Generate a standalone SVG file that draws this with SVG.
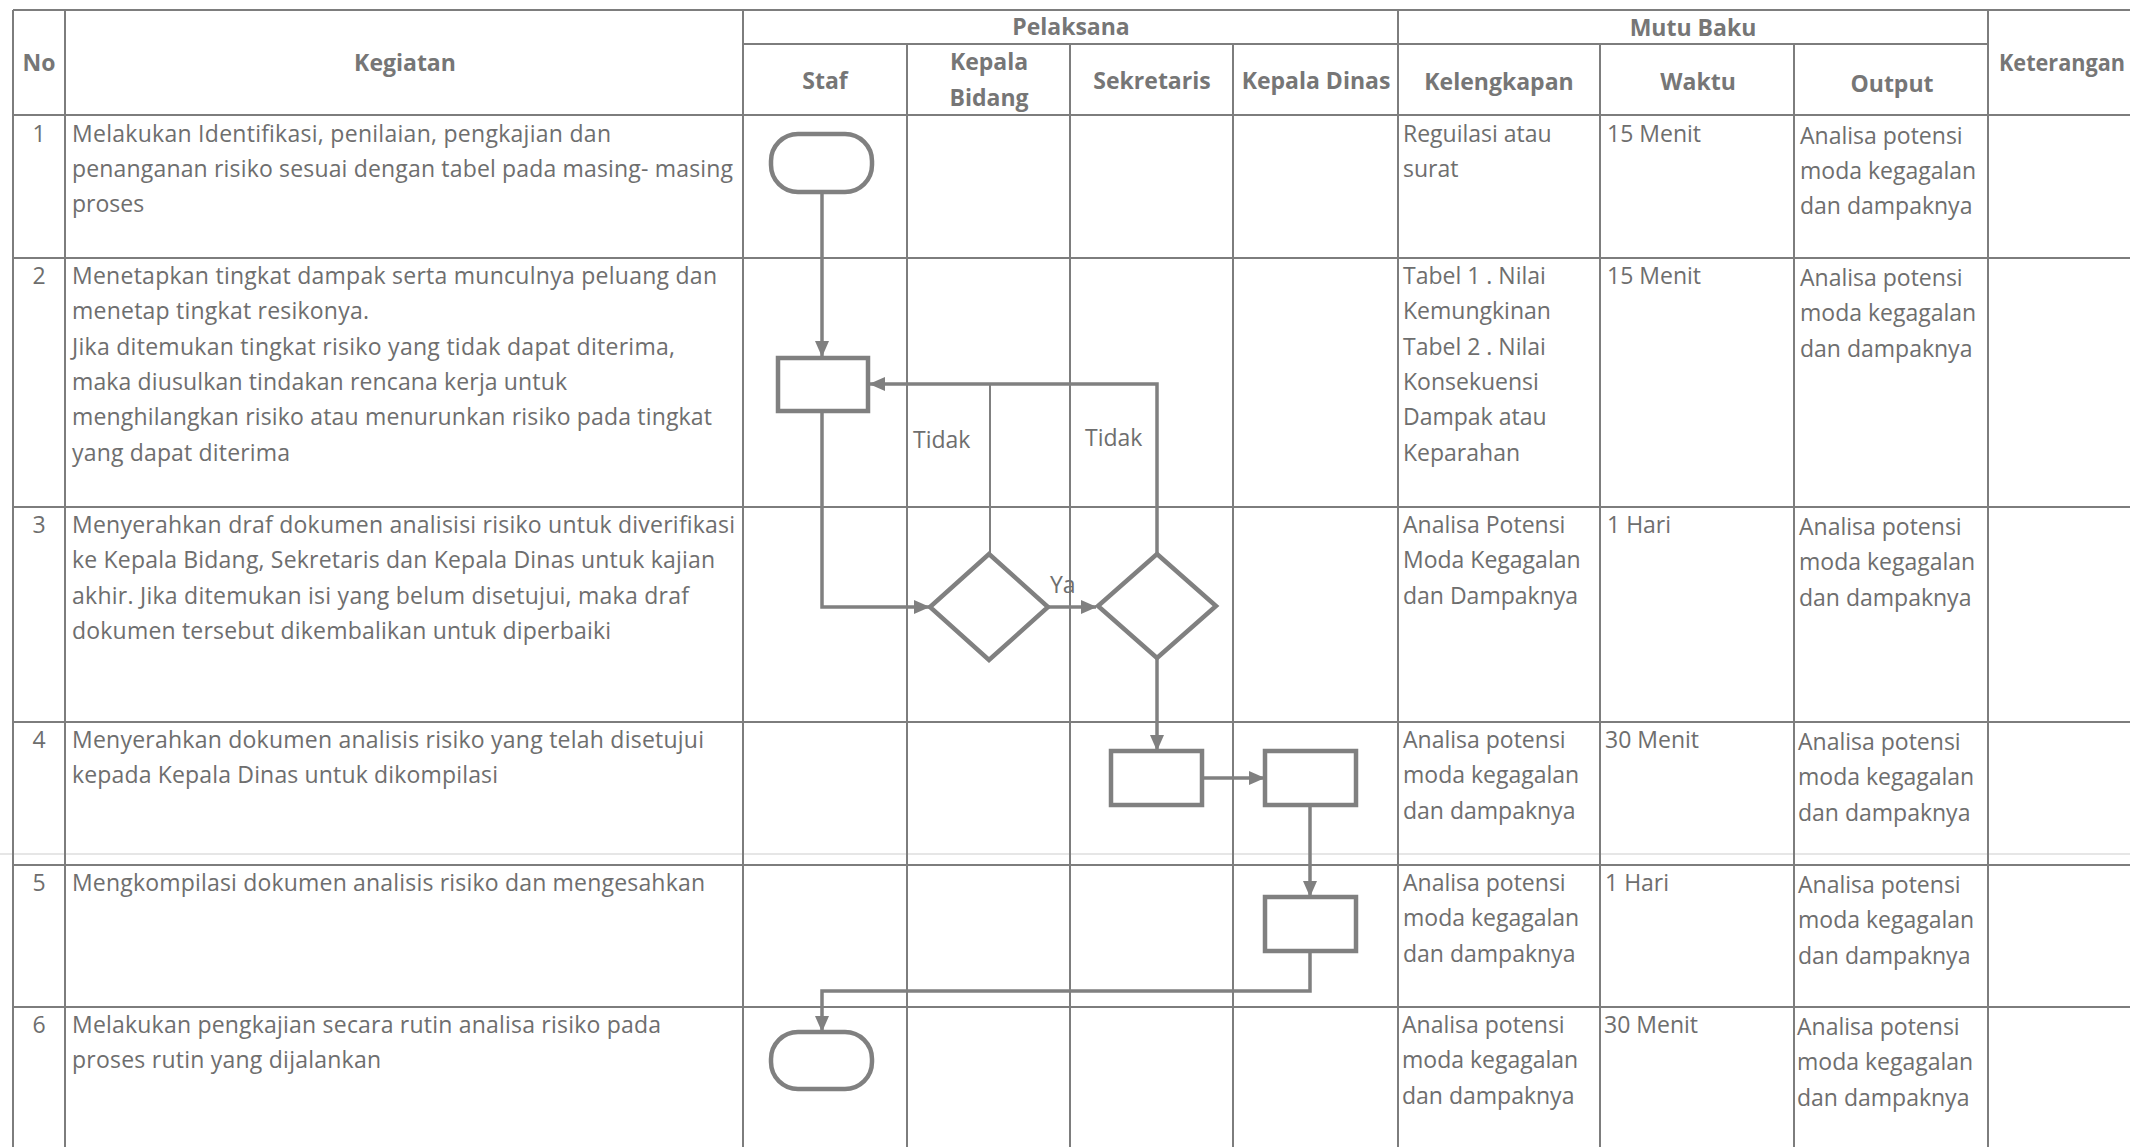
<svg xmlns="http://www.w3.org/2000/svg" width="2130" height="1147" viewBox="0 0 2130 1147">
<style>
.grid{stroke:#7d7d7d;stroke-width:2;fill:none}
.faint{stroke:#e6e6e6;stroke-width:2;fill:none}
.t{font-family:"Open Sans","Liberation Sans",sans-serif;font-size:23px;fill:#6e6e6e}
.h{font-family:"Open Sans","Liberation Sans",sans-serif;font-size:23px;font-weight:bold;fill:#767676;text-anchor:middle}
.n{text-anchor:middle}
.shape{fill:#fff;stroke:#808080;stroke-width:4.5}
.conn{stroke:#808080;stroke-width:3.5;fill:none}
.thin{stroke:#808080;stroke-width:2;fill:none}
</style>
<defs>
<marker id="arr" markerWidth="16" markerHeight="14" refX="15" refY="7" orient="auto" markerUnits="userSpaceOnUse"><path d="M0,0 L16,7 L0,14 z" fill="#808080"/></marker>
</defs>
<rect x="0" y="0" width="2130" height="1147" fill="#ffffff"/>

<g id="table-grid">
<line class="faint" x1="0" y1="854" x2="2130" y2="854"/>
<line class="grid" x1="13" y1="10" x2="2130" y2="10"/>
<line class="grid" x1="743" y1="44" x2="1988" y2="44"/>
<line class="grid" x1="13" y1="115" x2="2130" y2="115"/>
<line class="grid" x1="13" y1="258" x2="2130" y2="258"/>
<line class="grid" x1="13" y1="507" x2="2130" y2="507"/>
<line class="grid" x1="13" y1="722" x2="2130" y2="722"/>
<line class="grid" x1="13" y1="865" x2="2130" y2="865"/>
<line class="grid" x1="13" y1="1007" x2="2130" y2="1007"/>
<line class="grid" x1="13" y1="10" x2="13" y2="1147"/>
<line class="grid" x1="65" y1="10" x2="65" y2="1147"/>
<line class="grid" x1="743" y1="10" x2="743" y2="1147"/>
<line class="grid" x1="907" y1="44" x2="907" y2="1147"/>
<line class="grid" x1="1070" y1="44" x2="1070" y2="1147"/>
<line class="grid" x1="1233" y1="44" x2="1233" y2="1147"/>
<line class="grid" x1="1398" y1="10" x2="1398" y2="1147"/>
<line class="grid" x1="1600" y1="44" x2="1600" y2="1147"/>
<line class="grid" x1="1794" y1="44" x2="1794" y2="1147"/>
<line class="grid" x1="1988" y1="10" x2="1988" y2="1147"/>
</g>

<g id="header">
<text class="h" x="39" y="71">No</text>
<text class="h" x="405" y="71">Kegiatan</text>
<text class="h" x="1071" y="35">Pelaksana</text>
<text class="h" x="1693" y="36">Mutu Baku</text>
<text class="h" x="1999" y="71" style="text-anchor:start" textLength="126" lengthAdjust="spacingAndGlyphs">Keterangan</text>
<text class="h" x="825" y="89">Staf</text>
<text class="h" x="989" y="70">Kepala</text>
<text class="h" x="989" y="106">Bidang</text>
<text class="h" x="1152" y="89">Sekretaris</text>
<text class="h" x="1316" y="89">Kepala Dinas</text>
<text class="h" x="1499" y="90">Kelengkapan</text>
<text class="h" x="1698" y="90">Waktu</text>
<text class="h" x="1892" y="92">Output</text>
</g>

<g id="row1">
<text class="t n" x="39" y="142">1</text>
<text class="t" x="72" y="142" textLength="539">Melakukan Identifikasi, penilaian, pengkajian dan</text>
<text class="t" x="72" y="177" textLength="661">penanganan risiko sesuai dengan tabel pada masing- masing</text>
<text class="t" x="72" y="212">proses</text>
<text class="t" x="1403" y="142">Reguilasi atau</text>
<text class="t" x="1403" y="177">surat</text>
<text class="t" x="1607" y="142">15 Menit</text>
<text class="t" x="1800" y="144">Analisa potensi</text>
<text class="t" x="1800" y="179">moda kegagalan</text>
<text class="t" x="1800" y="214">dan dampaknya</text>
</g>

<g id="row2">
<text class="t n" x="39" y="284">2</text>
<text class="t" x="72" y="284" textLength="645">Menetapkan tingkat dampak serta munculnya peluang dan</text>
<text class="t" x="72" y="319" textLength="297">menetap tingkat resikonya.</text>
<text class="t" x="72" y="355" textLength="603">Jika ditemukan tingkat risiko yang tidak dapat diterima,</text>
<text class="t" x="72" y="390" textLength="495">maka diusulkan tindakan rencana kerja untuk</text>
<text class="t" x="72" y="425" textLength="640">menghilangkan risiko atau menurunkan risiko pada tingkat</text>
<text class="t" x="72" y="461" textLength="218">yang dapat diterima</text>
<text class="t" x="1403" y="284">Tabel 1 . Nilai</text>
<text class="t" x="1403" y="319">Kemungkinan</text>
<text class="t" x="1403" y="355">Tabel 2 . Nilai</text>
<text class="t" x="1403" y="390">Konsekuensi</text>
<text class="t" x="1403" y="425">Dampak atau</text>
<text class="t" x="1403" y="461">Keparahan</text>
<text class="t" x="1607" y="284">15 Menit</text>
<text class="t" x="1800" y="286">Analisa potensi</text>
<text class="t" x="1800" y="321">moda kegagalan</text>
<text class="t" x="1800" y="357">dan dampaknya</text>
</g>

<g id="row3">
<text class="t n" x="39" y="533">3</text>
<text class="t" x="72" y="533" textLength="663">Menyerahkan draf dokumen analisisi risiko untuk diverifikasi</text>
<text class="t" x="72" y="568" textLength="643">ke Kepala Bidang, Sekretaris dan Kepala Dinas untuk kajian</text>
<text class="t" x="72" y="604" textLength="617">akhir. Jika ditemukan isi yang belum disetujui, maka draf</text>
<text class="t" x="72" y="639" textLength="539">dokumen tersebut dikembalikan untuk diperbaiki</text>
<text class="t" x="1403" y="533">Analisa Potensi</text>
<text class="t" x="1403" y="568">Moda Kegagalan</text>
<text class="t" x="1403" y="604">dan Dampaknya</text>
<text class="t" x="1607" y="533">1 Hari</text>
<text class="t" x="1799" y="535">Analisa potensi</text>
<text class="t" x="1799" y="570">moda kegagalan</text>
<text class="t" x="1799" y="606">dan dampaknya</text>
</g>

<g id="row4">
<text class="t n" x="39" y="748">4</text>
<text class="t" x="72" y="748" textLength="632">Menyerahkan dokumen analisis risiko yang telah disetujui</text>
<text class="t" x="72" y="783" textLength="426">kepada Kepala Dinas untuk dikompilasi</text>
<text class="t" x="1403" y="748">Analisa potensi</text>
<text class="t" x="1403" y="783">moda kegagalan</text>
<text class="t" x="1403" y="819">dan dampaknya</text>
<text class="t" x="1605" y="748">30 Menit</text>
<text class="t" x="1798" y="750">Analisa potensi</text>
<text class="t" x="1798" y="785">moda kegagalan</text>
<text class="t" x="1798" y="821">dan dampaknya</text>
</g>

<g id="row5">
<text class="t n" x="39" y="891">5</text>
<text class="t" x="72" y="891" textLength="633">Mengkompilasi dokumen analisis risiko dan mengesahkan</text>
<text class="t" x="1403" y="891">Analisa potensi</text>
<text class="t" x="1403" y="926">moda kegagalan</text>
<text class="t" x="1403" y="962">dan dampaknya</text>
<text class="t" x="1605" y="891">1 Hari</text>
<text class="t" x="1798" y="893">Analisa potensi</text>
<text class="t" x="1798" y="928">moda kegagalan</text>
<text class="t" x="1798" y="964">dan dampaknya</text>
</g>

<g id="row6">
<text class="t n" x="39" y="1033">6</text>
<text class="t" x="72" y="1033" textLength="589">Melakukan pengkajian secara rutin analisa risiko pada</text>
<text class="t" x="72" y="1068" textLength="309">proses rutin yang dijalankan</text>
<text class="t" x="1402" y="1033">Analisa potensi</text>
<text class="t" x="1402" y="1068">moda kegagalan</text>
<text class="t" x="1402" y="1104">dan dampaknya</text>
<text class="t" x="1604" y="1033">30 Menit</text>
<text class="t" x="1797" y="1035">Analisa potensi</text>
<text class="t" x="1797" y="1070">moda kegagalan</text>
<text class="t" x="1797" y="1106">dan dampaknya</text>
</g>

<g id="connectors">
<path class="conn" d="M822,193 V356" marker-end="url(#arr)"/>
<path class="conn" d="M822,411 V607 H929" marker-end="url(#arr)"/>
<path class="conn" d="M1048,607 H1096" marker-end="url(#arr)"/>
<path class="conn" d="M1157,554 V384 H870" marker-end="url(#arr)"/>
<path class="thin" d="M990,554 V384"/>
<path class="conn" d="M1157,658 V750" marker-end="url(#arr)"/>
<path class="conn" d="M1202,778 H1264" marker-end="url(#arr)"/>
<path class="conn" d="M1310,805 V896" marker-end="url(#arr)"/>
<path class="conn" d="M1310,951 V991 H822 V1031" marker-end="url(#arr)"/>
<text class="t" x="913" y="448">Tidak</text>
<text class="t" x="1085" y="446">Tidak</text>
<text class="t" x="1050" y="593">Ya</text>
</g>

<g id="start"><rect class="shape" x="771" y="134" width="101" height="58" rx="27"/></g>
<g id="proses-staf"><rect class="shape" x="778" y="358" width="90" height="53"/></g>
<g id="keputusan-kabid"><polygon class="shape" points="989,554 1048,607 989,660 930,607"/></g>
<g id="keputusan-sekretaris"><polygon class="shape" points="1157,554 1216,606 1157,658 1098,606"/></g>
<g id="proses-sekretaris"><rect class="shape" x="1111" y="751" width="91" height="54"/></g>
<g id="proses-kadis-1"><rect class="shape" x="1265" y="751" width="91" height="54"/></g>
<g id="proses-kadis-2"><rect class="shape" x="1265" y="897" width="91" height="54"/></g>
<g id="end"><rect class="shape" x="771" y="1032" width="101" height="57" rx="27"/></g>
</svg>
